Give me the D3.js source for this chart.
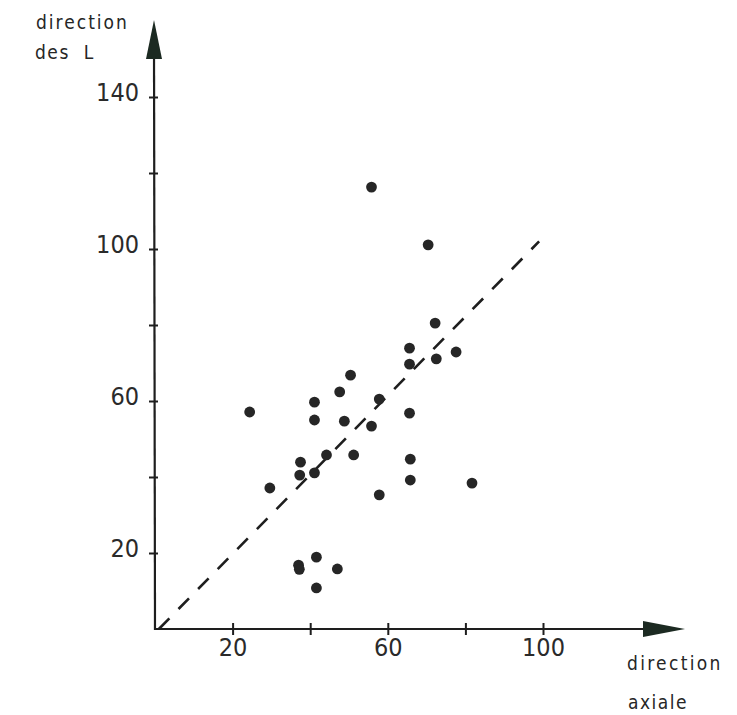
<!DOCTYPE html>
<html>
<head>
<meta charset="utf-8">
<script src="https://cdn.jsdelivr.net/npm/d3@7"></script>
<style>
  html, body { margin: 0; padding: 0; background: #fff; }
  svg { display: block; }
  .lbl { font-family: "Liberation Sans Narrow", "DejaVu Sans Condensed", "Liberation Sans", sans-serif; fill: #2a2a2a; }
  .ttl { font-family: "DejaVu Sans Condensed", "Liberation Sans Narrow", sans-serif; fill: #262626; }
</style>
</head>
<body>
<script>
// Observations: direction axiale (x) vs direction des L (y)
const axialDir = [55.8, 70.4, 72.2, 65.6, 77.6, 72.5, 65.6, 50.4, 47.6, 41.1,
                  57.8, 24.4, 41.1, 48.8, 65.6, 55.8, 44.2, 51.2, 65.8, 37.5,
                  37.3, 41.1, 65.8, 29.6, 81.7, 57.8, 37.0, 37.2, 41.6, 47.0, 41.6];
const lDir     = [116.3, 101.1, 80.5, 73.9, 72.9, 71.1, 69.7, 66.8, 62.4, 59.7,
                  60.5, 57.1, 55.0, 54.7, 56.8, 53.4, 45.8, 45.8, 44.7, 43.9,
                  40.5, 41.1, 39.2, 37.1, 38.4, 35.3, 16.8, 15.7, 18.9, 15.8, 10.8];

// Tick positions and labels
const xTicks = [20, 40, 60, 80, 100];
const xTickLabels = ["20", "", "60", "", "100"];
const yTicks = [20, 40, 60, 80, 100, 120, 140];
const yTickLabels = ["20", "", "60", "", "100", "", "140"];

// Dashed reference line (start and end, in data units)
const refX = [1, 99];
const refY = [0, 102];

const W = 737, H = 715;
const svg = d3.select("body").append("svg").attr("width", W).attr("height", H);

const x = d3.scaleLinear().domain([0, 100]).range([155, 543]);
const y = d3.scaleLinear().domain([0, 140]).range([629, 97]);

const ink = "#1e1e1e";
const x0 = x(0), y0 = y(0);
const xEnd = 685, yEnd = 20;

// Axis lines
svg.append("line").attr("x1", x0).attr("y1", y0 + 1).attr("x2", x0 - 1).attr("y2", yEnd + 20)
  .attr("stroke", ink).attr("stroke-width", 2.2);
svg.append("line").attr("x1", x0 - 1).attr("y1", y0).attr("x2", xEnd - 20).attr("y2", y0)
  .attr("stroke", ink).attr("stroke-width", 2.2);

// Arrowheads
svg.append("path")
  .attr("d", `M${x0 - 1},${yEnd} L${x0 - 9},${yEnd + 39} L${x0 + 7},${yEnd + 39} Z`)
  .attr("fill", "#1c2a22");
svg.append("path")
  .attr("d", `M${xEnd},${y0} L${xEnd - 42},${y0 - 8} L${xEnd - 42},${y0 + 8} Z`)
  .attr("fill", "#1c2a22");

// X axis ticks
const xAxis = d3.axisBottom(x).tickValues(xTicks).tickSizeOuter(0).tickSize(6)
  .tickFormat((d, i) => xTickLabels[i]);
const gx = svg.append("g").attr("transform", `translate(0,${y0})`).call(xAxis);
gx.select(".domain").remove();
gx.selectAll(".tick line").attr("y1", -6).attr("y2", 6).attr("stroke", ink).attr("stroke-width", 2);
gx.selectAll(".tick text").attr("class", "lbl").attr("font-size", 25).attr("y", 9).attr("dy", "0.71em")
  .attr("fill", "#2a2a2a");

// Y axis ticks
const yAxis = d3.axisLeft(y).tickValues(yTicks).tickSizeOuter(0).tickSize(6)
  .tickFormat((d, i) => yTickLabels[i]);
const gy = svg.append("g").attr("transform", `translate(${x0},0)`).call(yAxis);
gy.select(".domain").remove();
gy.selectAll(".tick line").attr("x1", -6).attr("x2", 3).attr("stroke", ink).attr("stroke-width", 2);
gy.selectAll(".tick text").attr("class", "lbl").attr("font-size", 25).attr("x", -16).attr("dy", "0.15em")
  .attr("fill", "#2a2a2a");

// Dashed reference line
svg.append("line")
  .attr("x1", x(refX[0])).attr("y1", y(refY[0]))
  .attr("x2", x(refX[1])).attr("y2", y(refY[1]))
  .attr("stroke", ink).attr("stroke-width", 2.6)
  .attr("stroke-dasharray", "15,13");

// Points
svg.append("g").selectAll("circle")
  .data(axialDir.map((v, i) => [v, lDir[i]]))
  .join("circle")
  .attr("cx", d => x(d[0])).attr("cy", d => y(d[1]))
  .attr("r", 5.4)
  .attr("fill", "#262626");

// Axis titles
svg.append("text").attr("class", "ttl").attr("x", 36).attr("y", 29)
  .attr("font-size", 19).attr("letter-spacing", 2).text("direction");
svg.append("text").attr("class", "ttl").attr("x", 35).attr("y", 59)
  .attr("font-size", 19).attr("letter-spacing", 1.5).attr("xml:space", "preserve").text("des  L");
svg.append("text").attr("class", "ttl").attr("x", 627).attr("y", 670)
  .attr("font-size", 19).attr("letter-spacing", 2.3).text("direction");
svg.append("text").attr("class", "ttl").attr("x", 628).attr("y", 709)
  .attr("font-size", 19).attr("letter-spacing", 1.5).text("axiale");
</script>
</body>
</html>
